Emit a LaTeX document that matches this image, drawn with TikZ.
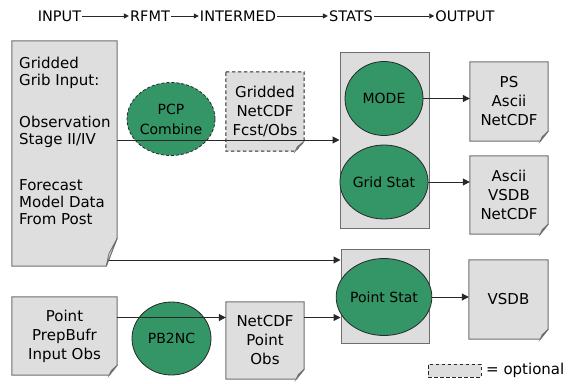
\documentclass[tikz,border=0pt]{standalone}
\usepackage{fontspec}
\setmainfont{DejaVu Sans}
\usetikzlibrary{shapes.geometric,arrows.meta,backgrounds,calc}
\definecolor{metgreen}{RGB}{52,150,102}
\definecolor{docgray}{RGB}{222,222,222}
\definecolor{boxgray}{RGB}{221,221,221}
\definecolor{edgegray}{RGB}{110,110,110}
\definecolor{linedark}{RGB}{40,40,40}
\tikzset{
  hdr/.style={font=\fontsize{14.5}{17}\selectfont, inner sep=1pt},
  harr/.style={draw=linedark, line width=0.9pt, -{Triangle[length=5pt,width=5pt]}},
  arr/.style={draw=linedark, line width=1pt, -{Triangle[length=7pt,width=7pt]}},
  plain/.style={draw=linedark, line width=1pt},
  docnode/.style={draw=none, inner sep=0pt, align=center, font=\fontsize{15}{19}\selectfont},
  docline/.style={draw=edgegray, line width=1pt, fill=docgray},
  dashdoc/.style={docline, dash pattern=on 3.5pt off 2.5pt, draw=linedark},
  foldline/.style={draw=edgegray, line width=0.8pt, fill=gray!25},
  statbox/.style={draw=edgegray, line width=1pt, fill=boxgray, inner sep=0pt},
  proc/.style={ellipse, draw=linedark, line width=0.8pt, fill=metgreen, inner sep=0pt, align=center, font=\fontsize{14}{20}\selectfont},
}
\newcommand\docshape[4][docline]{%
  \draw[#1] (#2.north west) -- (#2.north east) -- ([yshift=#4]#2.south east)
     -- ([xshift=-#3]#2.south east) -- (#2.south west) -- cycle;
  \draw[foldline] ([yshift=#4]#2.south east) -- ([xshift=-0.75*#3, yshift=0.45*#4]#2.south east)
     -- ([xshift=-#3]#2.south east) -- cycle;}
\begin{document}
\begin{tikzpicture}[x=1pt,y=-1pt]
\useasboundingbox (0,0) rectangle (569,383);
% header
\node[hdr] (hin) at (59.5,16) {INPUT};
\node[hdr] (hrf) at (150,16) {RFMT};
\node[hdr] (hit) at (238,16) {INTERMED};
\node[hdr] (hst) at (351,16) {STATS};
\node[hdr] (hou) at (465,16) {OUTPUT};
\draw[harr] (hin) -- (hrf);
\draw[harr] (hrf) -- (hit);
\draw[harr] (hit) -- (hst);
\draw[harr] (hst) -- (hou);
% documents
\node[docnode, minimum width=105pt, minimum height=225pt] (inp) at (64.5,153.5) {};
\node[docnode, anchor=north west, align=left, font=\fontsize{15}{17}\selectfont] (inptxt) at (19,56.5)
  {Gridded\\Grib Input:\\[25pt]Observation\\Stage II/IV\\[29pt]Forecast\\Model Data\\From Post};
\node[docnode, minimum width=78pt, minimum height=79pt] (gnc) at (265,111.5) {Gridded\\NetCDF\\Fcst/Obs};
\node[docnode, minimum width=78pt, minimum height=79pt] (ps) at (509,101.5) {PS\\Ascii\\NetCDF};
\node[docnode, minimum width=78pt, minimum height=78pt] (av) at (509,195) {Ascii\\VSDB\\NetCDF};
\node[docnode, minimum width=79pt, minimum height=79pt] (vsdb) at (508.5,299.5) {VSDB};
\node[docnode, minimum width=105pt, minimum height=78pt] (pb) at (64.5,336) {Point\\PrepBufr\\Input Obs};
\node[docnode, minimum width=78pt, minimum height=77pt] (npo) at (265,340.5) {NetCDF\\Point\\Obs};
\begin{pgfonlayer}{background}
  \docshape{inp}{11pt}{28pt}
  \docshape[dashdoc]{gnc}{9pt}{10pt}
  \docshape{ps}{8pt}{10pt}
  \docshape{av}{8pt}{10pt}
  \docshape{vsdb}{8pt}{10pt}
  \docshape{pb}{8pt}{10pt}
  \docshape{npo}{8pt}{10pt}
\end{pgfonlayer}
% stat boxes
\node[statbox, minimum width=89pt, minimum height=176pt] (sb1) at (384.5,140) {};
\node[statbox, minimum width=88pt, minimum height=94pt] (sb2) at (385,296) {};
% processes
\node[proc, dash pattern=on 3pt off 2pt, minimum width=78pt, minimum height=73pt] (pcp) at (171,119) {PCP\\Combine};
\node[proc, minimum width=78pt, minimum height=74pt] (mode) at (384,98.5) {MODE};
\node[proc, minimum width=78pt, minimum height=74pt] (grid) at (384,182) {Grid Stat};
\node[proc, minimum width=78pt, minimum height=77pt] (pstat) at (384,297) {Point Stat};
\node[proc, minimum width=79pt, minimum height=73pt] (pb2nc) at (171.5,338.5) {PB2NC};
% legend
\node[draw=linedark, fill=docgray, line width=1pt, dash pattern=on 3.5pt off 2.5pt, minimum width=53pt, minimum height=13pt, inner sep=0pt] (leg) at (454.5,370.5) {};
\node[anchor=west, inner sep=0pt, font=\fontsize{15}{17}\selectfont] (legtxt) at (486,370) {= optional};
% connectors
\coordinate (ya) at (0,140);
\coordinate (yb) at (0,260);
\coordinate (yc) at (0,317.5);
\draw[arr] (inp.east |- ya) -- (sb1.west |- ya);
\draw[arr] ([xshift=-8.5pt]inp.east |- yb) -- (sb2.west |- yb);
\draw[arr] (pb.east |- yc) -- (npo.west |- yc);
\draw[arr] (npo.east |- yc) -- (sb2.west |- yc);
\draw[arr] (mode.east) -- (ps.west |- mode.east);
\draw[arr] (grid.east) -- (av.west |- grid.east);
\draw[arr] (pstat.east) -- (vsdb.west |- pstat.east);
\end{tikzpicture}
\end{document}
